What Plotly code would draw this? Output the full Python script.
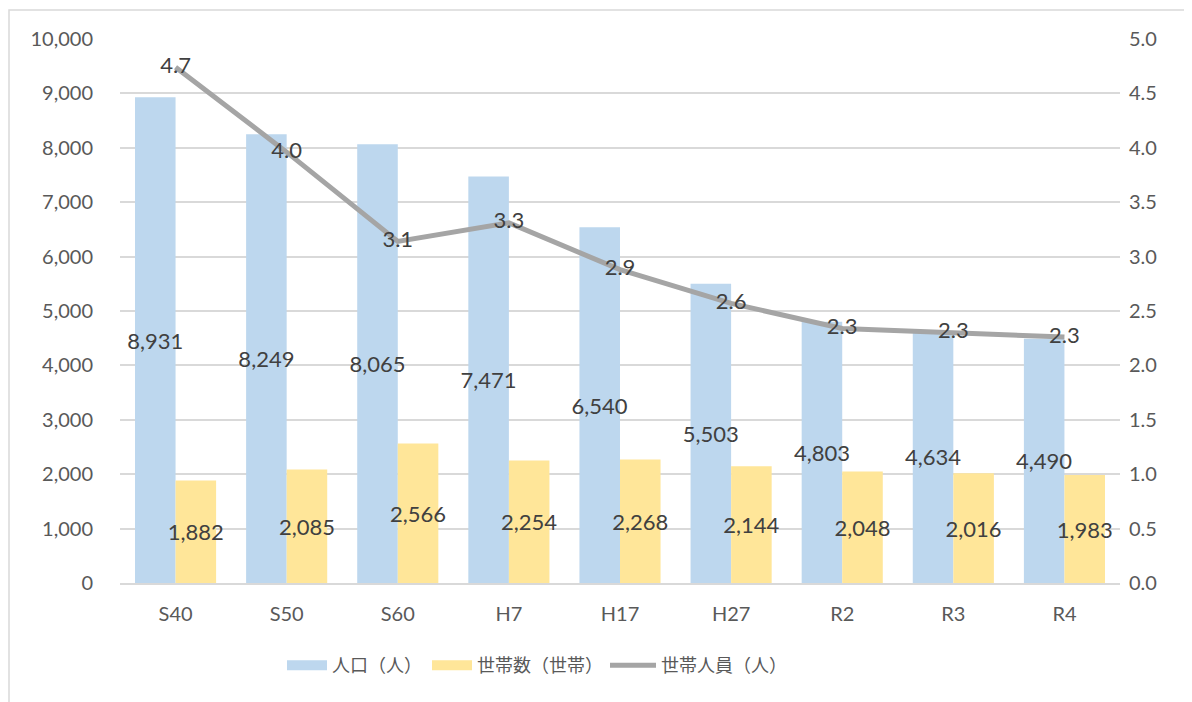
import plotly.graph_objects as go

categories = ["S40", "S50", "S60", "H7", "H17", "H27", "R2", "R3", "R4"]
population = [8931, 8249, 8065, 7471, 6540, 5503, 4803, 4634, 4490]
households = [1882, 2085, 2566, 2254, 2268, 2144, 2048, 2016, 1983]
persons_per_household = [4.74, 3.96, 3.14, 3.31, 2.88, 2.57, 2.34, 2.30, 2.26]

left_ticks = list(range(0, 10001, 1000))
right_ticks = [i * 0.5 for i in range(11)]

FONT = "Lato, 'Noto Sans CJK JP', sans-serif"
LEGFONT = "'Noto Sans CJK JP', sans-serif"
TXT = "#404040"
AX = "#595959"
BLUE = "#BDD7EE"
YELLOW = "#FFE699"
GRAY = "#A5A5A5"

# page body has an 8px margin; figure sized so it fits the window
W, H = 1184, 694
L, T, PW, PH = 112, 31, 1000, 544

fig = go.Figure()
fig.add_trace(go.Bar(
    x=categories, y=population, name="人口（人）", showlegend=False,
    marker=dict(color=BLUE, line=dict(width=0)),
    text=[f"{v:,}" for v in population], textposition="inside",
    insidetextanchor="middle", constraintext="none", textangle=0,
    textfont=dict(family=FONT, size=22, color=TXT),
    hoverinfo="skip",
))
fig.add_trace(go.Bar(
    x=categories, y=households, name="世帯数（世帯）", showlegend=False,
    marker=dict(color=YELLOW, line=dict(width=0)),
    text=[f"{v:,}" for v in households], textposition="inside",
    insidetextanchor="middle", constraintext="none", textangle=0,
    textfont=dict(family=FONT, size=22, color=TXT),
    hoverinfo="skip",
))
fig.add_trace(go.Scatter(
    x=categories, y=persons_per_household, name="世帯人員（人）", showlegend=False,
    yaxis="y2", mode="lines+text",
    line=dict(color=GRAY, width=5),
    text=[f"{v:.1f}" for v in persons_per_household],
    textposition="middle center",
    textfont=dict(family=FONT, size=22, color=TXT),
    hoverinfo="skip",
))

# legend-only entries
for name, color, width, leg in [("人口（人）", BLUE, 14, "legend"),
                                 ("世帯数（世帯）", YELLOW, 14, "legend2"),
                                 ("世帯人員（人）", GRAY, 5, "legend3")]:
    fig.add_trace(go.Scatter(
        x=[None], y=[None], name=name, mode="lines",
        line=dict(color=color, width=width), legend=leg, hoverinfo="skip",
    ))

def leg(xpx, iw=40):
    return dict(orientation="h", x=(xpx - L) / PW, xanchor="left",
                y=(T + PH - (647 - 8)) / PH, yanchor="top",
                font=dict(family=LEGFONT, size=18, color=AX), itemwidth=iw,
                bgcolor="rgba(0,0,0,0)")

fig.update_layout(
    width=W, height=H,
    margin=dict(l=L, r=W - L - PW, t=T, b=H - T - PH, autoexpand=False),
    paper_bgcolor="white", plot_bgcolor="white",
    font=dict(family=FONT, color=AX, size=20),
    barmode="group", bargap=0.27, bargroupgap=0,
    showlegend=True,
    legend=leg(282 - 8),
    legend2=leg(427 - 8),
    legend3=leg(605 - 8, 46),
    xaxis=dict(showgrid=False, ticks="", tickfont=dict(size=20, color=AX),
               showline=True, linecolor="#D9D9D9", linewidth=2,
               ticklabelstandoff=12, automargin=False),
    yaxis=dict(range=[0, 10000], tickvals=left_ticks,
               ticktext=[f"{v:,}" for v in left_ticks],
               showgrid=True, gridcolor="#D9D9D9", gridwidth=1.5,
               zeroline=False, ticks="", tickfont=dict(size=20, color=AX),
               ticklabelstandoff=26, automargin=False),
    yaxis2=dict(range=[0, 5], tickvals=right_ticks,
                ticktext=[f"{v:.1f}" for v in right_ticks],
                overlaying="y", side="right", showgrid=False, zeroline=False,
                ticks="", tickfont=dict(size=20, color=AX), ticklabelstandoff=8,
                automargin=False),
    shapes=[dict(type="rect", xref="paper", yref="paper",
                 x0=(1 - L) / PW, x1=(W + 20 - L) / PW,
                 y0=(T + PH - (H + 20)) / PH, y1=1 + (T - 2) / PH,
                 line=dict(color="#D9D9D9", width=1.5), layer="below")],
)

fig.write_html("out.html")
